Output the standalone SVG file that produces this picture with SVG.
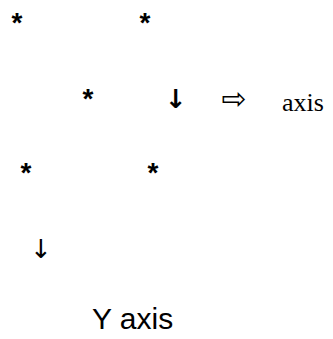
<svg xmlns="http://www.w3.org/2000/svg" width="333" height="339" viewBox="0 0 333 339">
<style>
.st{font-family:"Liberation Sans",Arial,sans-serif;font-size:28px;font-weight:bold;fill:#000;text-anchor:middle}
.ar{font-family:"DejaVu Sans","Liberation Sans",sans-serif;fill:#000;text-anchor:middle}
.sr{font-family:"Liberation Serif","Times New Roman",serif;font-size:26px;fill:#000}
.ss{font-family:"Liberation Sans",Arial,sans-serif;font-size:30px;fill:#000}
</style>
<rect width="333" height="339" fill="#fff"/>
<g id="star1"><text class="st" x="17" y="32">*</text></g>
<g id="star2"><text class="st" x="145" y="32">*</text></g>
<g id="star3"><text class="st" x="88" y="108">*</text></g>
<g id="star4"><text class="st" x="26" y="182">*</text></g>
<g id="star5"><text class="st" x="153" y="182">*</text></g>
<g id="arrow-down-bold"><text class="ar" x="176" y="108" font-size="26" font-weight="bold">↓</text></g>
<g id="arrow-right"><text class="ar" x="234" y="109" font-size="30">⇨</text></g>
<g id="axis"><text class="sr" x="282" y="111">axis</text></g>
<g id="arrow-down"><text class="ar" x="41" y="258" font-size="26">↓</text></g>
<g id="yaxis"><text class="ss" x="92" y="329">Y axis</text></g>
</svg>
